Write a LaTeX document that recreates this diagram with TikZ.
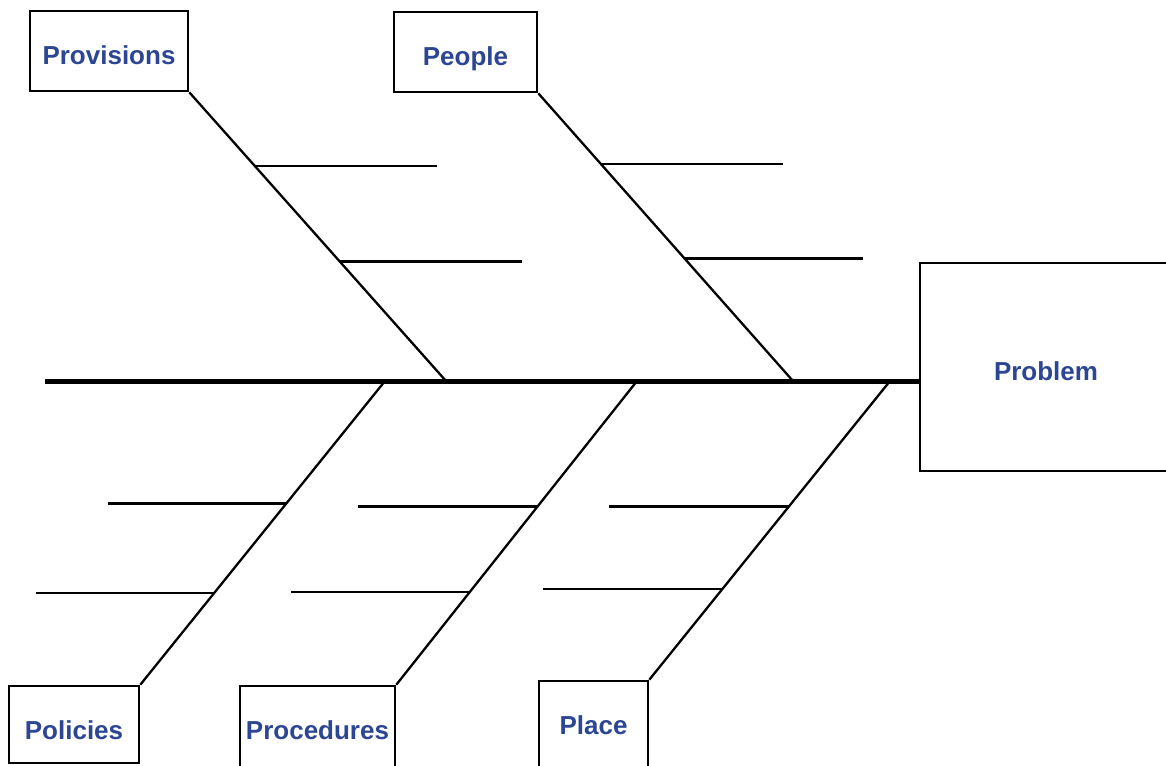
\documentclass[tikz,border=0pt]{standalone}
\usepackage{fontspec}
\setmainfont{Liberation Sans}
\definecolor{lblblue}{RGB}{44,70,148}
\begin{document}
\begin{tikzpicture}[x=1pt,y=-1pt,
  box/.style={draw=black,line width=2.6pt,fill=white,inner sep=0pt},
  lbl/.style={text=lblblue,font=\bfseries\fontsize{26}{30}\selectfont,inner sep=0pt,text height=19pt,text depth=0pt},
  bone/.style={line width=2.3pt},
  spine/.style={line width=5pt}]
\clip (0,0) rectangle (1166,765);
\fill[white] (0,0) rectangle (1166,765);
% spine
\coordinate (tail) at (45,381);
\node[box,minimum width=250,minimum height=208] (prob) at (1045,367) {};
\node[lbl] (probt) at (1046,371) {Problem};
\coordinate (s1) at (446,381);
\coordinate (s2) at (793,381);
\coordinate (s3) at (385,381);
\coordinate (s4) at (637,381);
\coordinate (s5) at (890,381);
\draw[spine] (tail) -- (tail -| prob.west);
% top boxes
\node[box,minimum width=158,minimum height=80] (prov) at (109,51) {};
\node[lbl] (provt) at (109,55) {Provisions};
\node[box,minimum width=143,minimum height=80] (peo) at (465.5,52) {};
\node[lbl] (peot) at (465.5,56) {People};
% bottom boxes
\node[box,minimum width=130,minimum height=77] (pol) at (74,724.5) {};
\node[lbl] (polt) at (74,730) {Policies};
\node[box,minimum width=155,minimum height=88] (proc) at (317.5,730) {};
\node[lbl] (proct) at (317.5,730) {Procedures};
\node[box,minimum width=109,minimum height=88] (pla) at (593.5,725) {};
\node[lbl] (plat) at (593.5,725) {Place};
% bones
\draw[bone] (prov.south east) -- (s1)
  coordinate[pos=0.255] (a1) coordinate[pos=0.586] (a2);
\draw[bone] (peo.south east) -- (s2)
  coordinate[pos=0.246] (b1) coordinate[pos=0.574] (b2);
\draw[bone] (pol.north east) -- (s3)
  coordinate[pos=0.597] (c1) coordinate[pos=0.302] (c2);
\draw[bone] (proc.north east) -- (s4)
  coordinate[pos=0.587] (d1) coordinate[pos=0.305] (d2);
\draw[bone] (pla.north east) -- (s5)
  coordinate[pos=0.58] (e1) coordinate[pos=0.303] (e2);
% sub-branches
\draw[bone] (a1) -- ++(182,0);
\draw[bone] (a2) -- ++(182,0);
\draw[bone] (b1) -- ++(182,0);
\draw[bone] (b2) -- ++(178,0);
\draw[bone] (c1) -- ++(-178,0);
\draw[bone] (c2) -- ++(-178,0);
\draw[bone] (d1) -- ++(-180,0);
\draw[bone] (d2) -- ++(-179,0);
\draw[bone] (e1) -- ++(-180,0);
\draw[bone] (e2) -- ++(-179,0);
\end{tikzpicture}
\end{document}
